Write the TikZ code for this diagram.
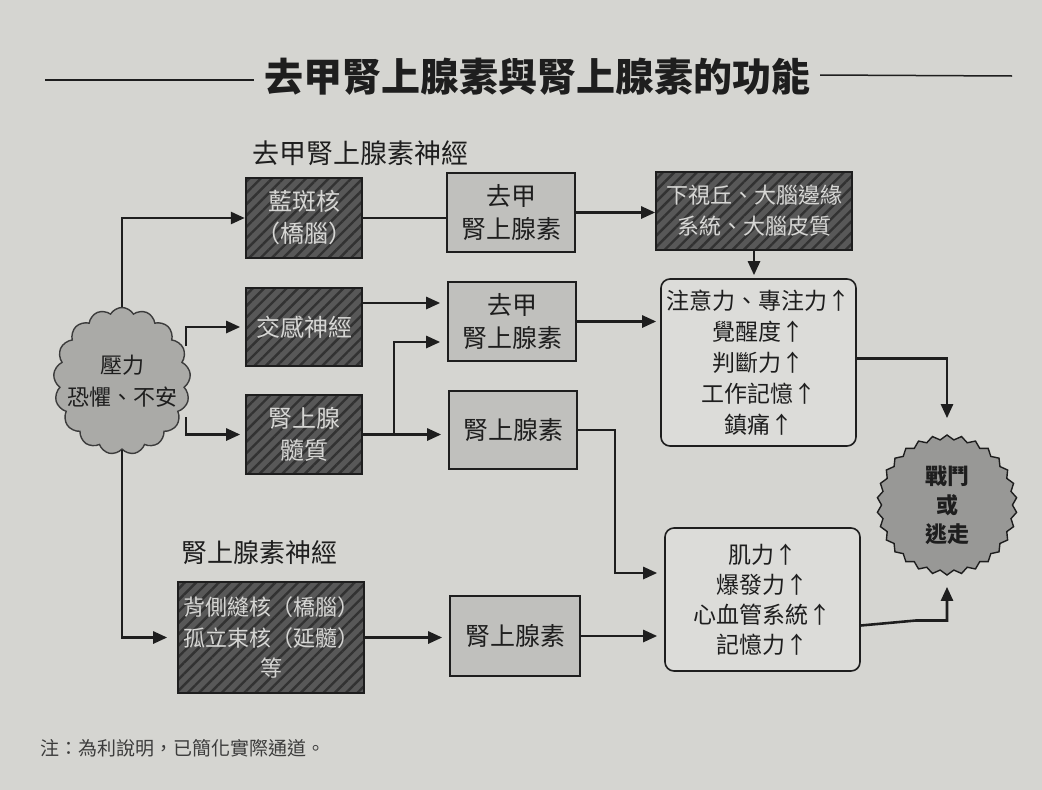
\documentclass[tikz,border=0pt]{standalone}
\usepackage{fontspec}
\setmainfont{Noto Sans CJK TC}
\usetikzlibrary{arrows.meta,shapes.symbols,shapes.geometric,patterns.meta,calc}

\definecolor{paper}{RGB}{213,213,209}
\definecolor{ink}{RGB}{30,30,30}
\definecolor{boxfill}{RGB}{192,192,189}
\definecolor{roundfill}{RGB}{220,220,217}
\definecolor{hatchbg}{RGB}{88,88,88}
\definecolor{hatchline}{RGB}{50,50,50}
\definecolor{hatchtext}{RGB}{214,214,212}
\definecolor{cloudfill}{RGB}{170,170,167}
\definecolor{burstfill}{RGB}{152,152,150}
\definecolor{notegray}{RGB}{60,60,60}

\begin{document}
\begin{tikzpicture}[x=1pt,y=-1pt,
  every node/.style={inner sep=0pt, text=ink, align=center},
  conn/.style={draw=ink, line width=2.6pt},
  arr/.style={conn, -{Triangle[length=14pt,width=12pt]}},
  lbox/.style={draw=ink, line width=1.6pt, fill=boxfill,
    font=\fontsize{25}{33}\selectfont},
  rbox/.style={draw=ink, line width=1.6pt, fill=roundfill, rounded corners=9pt,
    font=\fontsize{23}{31}\selectfont},
  hbox/.style={draw=ink, line width=1.6pt, preaction={fill=hatchbg},
    pattern={Lines[angle=45,distance=8pt,line width=2.4pt]}, pattern color=hatchline,
    text=hatchtext, font=\fontsize{24}{32}\selectfont},
  grouplabel/.style={font=\fontsize{27}{30}\selectfont},
]
% paper
\fill[paper] (0,0) rectangle (1042,790);
\useasboundingbox (0,0) rectangle (1042,790);

% heading with rules on both sides
\node[font=\fontsize{39}{41}\selectfont\bfseries] (title) at (537,77) {去甲腎上腺素與腎上腺素的功能};
\draw[draw=ink, line width=1.5pt] (45,80) -- ($(title.west)+(-10,3)$);
\draw[draw=ink, line width=1.5pt] ($(title.east)+(10,-2)$) -- (1012,76);

% group labels
\node[grouplabel] (lbl1) at (360,153) {去甲腎上腺素神經};
\node[grouplabel, font=\fontsize{26}{30}\selectfont] (lbl2) at (259,553) {腎上腺素神經};

% nuclei (hatched)
\node[hbox, minimum width=116, minimum height=80] (lc) at (304,218) {藍斑核\\（橋腦）};
\node[hbox, minimum width=116, minimum height=78] (sym) at (304,327) {交感神經};
\node[hbox, minimum width=116, minimum height=79] (med) at (304,434.5) {腎上腺\\髓質};
\node[hbox, minimum width=186, minimum height=111, font=\fontsize{22}{30.5}\selectfont] (drn) at (271,637.5) {背側縫核（橋腦）\\孤立束核（延髓）\\等};
\node[hbox, minimum width=196, minimum height=78, font=\fontsize{22}{31}\selectfont] (hyp) at (754,211) {下視丘、大腦邊緣\\系統、大腦皮質};

% transmitters
\node[lbox, minimum width=128, minimum height=79] (ne1) at (511,212.5) {去甲\\腎上腺素};
\node[lbox, minimum width=128, minimum height=79] (ne2) at (512,321.5) {去甲\\腎上腺素};
\node[lbox, minimum width=128, minimum height=78] (epi1) at (513,430) {腎上腺素};
\node[lbox, minimum width=130, minimum height=80] (epi2) at (515,636) {腎上腺素};

% effects
\node[rbox, minimum width=195, minimum height=167] (att) at (758.5,362.5)
  {注意力、專注力↑\\覺醒度↑\\判斷力↑\\工作記憶↑\\鎮痛↑};
\node[rbox, minimum width=195, minimum height=143, font=\fontsize{23}{30}\selectfont] (mus) at (762.5,599.5)
  {肌力↑\\爆發力↑\\心血管系統↑\\記憶力↑};

% stress cloud (outline sized freely, wording set on top)
\node[cloud, cloud puffs=17, cloud puff arc=120, aspect=0.93,
  minimum width=137, minimum height=147, draw=notegray, line width=1.4pt,
  fill=cloudfill] (cloud) at (122,381) {};
\node[font=\fontsize{22}{32}\selectfont] (cloudtext) at (cloud.center) {壓力\\恐懼、不安};

% fight or flight
\node[star, star points=30, star point ratio=1.07, minimum size=140,
  draw=ink, line width=1.4pt, fill=burstfill,
  font=\fontsize{22}{29}\selectfont\bfseries] (ff) at (947,505) {戰鬥\\或\\逃走};

% footnote
\node[anchor=west, text=notegray, font=\fontsize{19}{20}\selectfont] (note) at (40,748)
  {注：為利說明，已簡化實際通道。};

% branch points
\coordinate (cu) at (186,346);
\coordinate (cd) at (186,417);
\coordinate (mj) at (394,434.5);
\coordinate (ej) at (615,430);

% stress to nuclei
\draw[arr] (cloud.north) |- (lc.west);
\draw[arr] (cu) |- ($(sym.west)+(-5,0)$);
\draw[arr] (cd) |- ($(med.west)+(-5,0)$);
\draw[arr] (cloud.south) |- ($(drn.west)+(-10,0)$);

% noradrenergic pathway
\draw[conn] (lc.east) -- (lc.east -| ne1.west);
\draw[arr] (ne1.east) -- (ne1.east -| hyp.west);
\draw[arr] (hyp.south) -- ($(hyp.south |- att.north)+(0,-3)$);

% sympathetic and adrenal medulla
\draw[arr] ($(sym.east)+(0,-24)$) -- ($(sym.east -| ne2.west)+(-7,-24)$);
\draw[arr] (med.east) -- ($(med.east -| epi1.west)+(-7,0)$);
\draw[arr] (mj) |- ($(ne2.west)+(-7,20.5)$);
\draw[arr] (ne2.east) -- ($(ne2.east -| att.west)+(-4,0)$);
\draw[arr] (epi1.east) -- (ej) |- ($(mus.west)+(-7,-26.5)$);

% adrenergic pathway
\draw[arr] (drn.east) -- ($(drn.east -| epi2.west)+(-7,0)$);
\draw[arr] (epi2.east) -- ($(epi2.east -| mus.west)+(-7,0)$);

% effects to fight or flight
\draw[arr, shorten >=16pt] ($(att.east)+(0,-4)$) -| (ff.north);
\draw[arr, shorten >=11pt] ($(mus.east)+(0,26)$) -- ($(mus.east)+(55,21)$) -| (ff.south);
\end{tikzpicture}
\end{document}
